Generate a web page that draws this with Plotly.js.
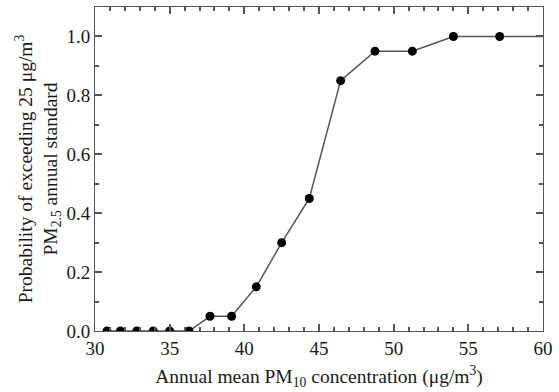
<!DOCTYPE html>
<html><head><meta charset="utf-8">
<script src="https://cdn.plot.ly/plotly-3.0.1.min.js"></script>
<style>html,body{margin:0;padding:0;background:#fff}</style>
</head><body><div id="chart" style="width:559px;height:392px"></div>
<script>
const pm10 = [30.8, 31.7, 32.8, 33.9, 35.0, 36.3, 37.7, 39.15, 40.8, 42.5, 44.35, 46.45, 48.75, 51.25, 54.0, 57.1];
const prob = [0, 0, 0, 0, 0, 0, 0.05, 0.05, 0.15, 0.30, 0.45, 0.85, 0.95, 0.95, 1.0, 1.0];
const lineEndX = [60];
const lineEndY = [1.0];
const xRange = [30, 60], yRange = [0, 1.1];
const xTickStep = 5, xMinorStep = 1;
const yTickStep = 0.2, yMinorStep = 0.1;

const fam = 'Liberation Serif';
const data = [
  {x: pm10.concat(lineEndX), y: prob.concat(lineEndY), mode: 'lines', type: 'scatter',
   line: {color: '#555', width: 1.5}, hoverinfo: 'skip'},
  {x: pm10, y: prob, mode: 'markers', type: 'scatter',
   marker: {color: '#000', size: 9}}
];
const layout = {
  width: 559, height: 392,
  margin: {l: 95, r: 16, t: 7, b: 61},
  showlegend: false,
  xaxis: {
    range: xRange, dtick: xTickStep,
    showline: true, linecolor: '#555', linewidth: 1, mirror: 'ticks',
    ticks: 'inside', ticklen: 7, tickcolor: '#555', tickwidth: 2,
    gridcolor: 'rgba(0,0,0,0)', zerolinecolor: 'rgba(0,0,0,0)',
    minor: {ticks: 'inside', dtick: xMinorStep, ticklen: 4, tickcolor: '#555', tickwidth: 2},
    tickfont: {size: 19, family: fam, color: '#1a1a1a'},
    title: {text: 'Annual mean PM<sub>10</sub> concentration (μg/m<sup>3</sup>)', font: {size: 19.5, family: fam, color: '#1a1a1a'}, standoff: 11}
  },
  yaxis: {
    range: yRange, dtick: yTickStep, tickformat: '.1f',
    showline: true, linecolor: '#555', linewidth: 1, mirror: 'ticks',
    ticks: 'inside', ticklen: 7, tickcolor: '#555', tickwidth: 2,
    gridcolor: 'rgba(0,0,0,0)', zerolinecolor: 'rgba(0,0,0,0)',
    minor: {ticks: 'inside', dtick: yMinorStep, ticklen: 4, tickcolor: '#555', tickwidth: 2},
    tickfont: {size: 19, family: fam, color: '#1a1a1a'},
    title: {text: 'Probability of exceeding 25 μg/m<sup>3</sup><br>PM<sub>2.5</sub> annual standard', font: {size: 19.5, family: fam, color: '#1a1a1a'}, standoff: 3}
  }
};
Plotly.newPlot('chart', data, layout, {displayModeBar: false});
</script></body></html>
